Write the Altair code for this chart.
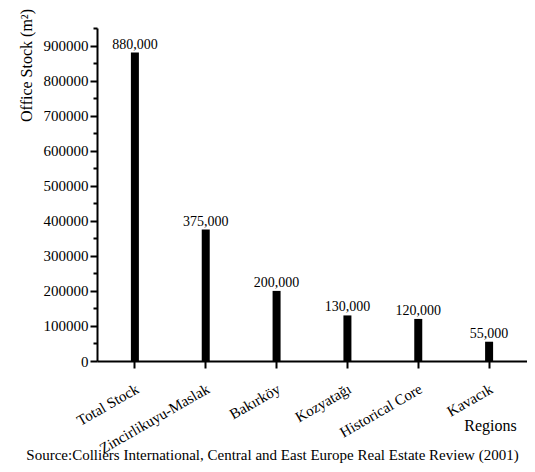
import altair as alt
import pandas as pd

regions = ["Total Stock", "Zincirlikuyu-Maslak", "Bakırköy", "Kozyatağı", "Historical Core", "Kavacık"]
stock = [880000, 375000, 200000, 130000, 120000, 55000]
y_ticks = list(range(0, 950001, 50000))

df = pd.DataFrame({"region": regions, "stock": stock})
FONT = "Liberation Serif"

x = alt.X("region:N", sort=regions,
          scale=alt.Scale(paddingOuter=0.035, paddingInner=0),
          axis=alt.Axis(title="Regions", labelAngle=-30, labelAlign="right", labelBaseline="top",
                        labelFontSize=15, labelFont=FONT, labelColor="black", labelPadding=13,
                        labelOffset=-1, labelOverlap=False, labelLimit=300,
                        tickSize=7, tickWidth=2, tickColor="black",
                        domainWidth=2, domainColor="black",
                        titleFont=FONT, titleFontSize=16, titleFontWeight="normal", titleColor="black",
                        titleX=393, titleY=64, titleAlign="center", titleBaseline="middle"))
y = alt.Y("stock:Q", scale=alt.Scale(domain=[0, 950000], nice=False),
          axis=alt.Axis(title="Office Stock (m²)", values=y_ticks,
                        labelExpr="datum.value % 100000 === 0 ? '' + datum.value : ''",
                        labelOverlap=False, labelFlush=False,
                        labelFontSize=15, labelFont=FONT, labelColor="black", labelPadding=2,
                        tickSize={"condition": {"test": "datum.value % 100000 === 0", "value": 7}, "value": 4},
                        tickWidth=2, tickColor="black", domainWidth=2, domainColor="black",
                        grid=False,
                        titleFont=FONT, titleFontSize=16, titleFontWeight="normal", titleColor="black",
                        titleAngle=270, titleX=-71, titleY=37, titleAlign="center", titleBaseline="middle"))

base = alt.Chart(df).encode(x=x, y=y)
bars = base.mark_bar(color="black", size=8)
labels = base.mark_text(font=FONT, fontSize=14, baseline="bottom", dy=-1, color="black").encode(
    text=alt.Text("stock:Q", format=",d"))

chart = alt.layer(bars, labels).properties(
    width=430, height=333,
    autosize=alt.AutoSizeParams(type="none"),
    padding={"left": 89, "top": 20, "right": 0, "bottom": 103},
    title=alt.TitleParams(text="Source:Colliers International, Central and East Europe Real Estate Review (2001)",
                          orient="bottom", anchor="middle", frame="bounds", font=FONT, fontSize=15,
                          fontWeight="normal", color="black", offset=-8),
).configure_view(stroke=None).configure_axis(grid=False)

chart.save("out.html", embed_options={"renderer": "svg", "actions": False})
